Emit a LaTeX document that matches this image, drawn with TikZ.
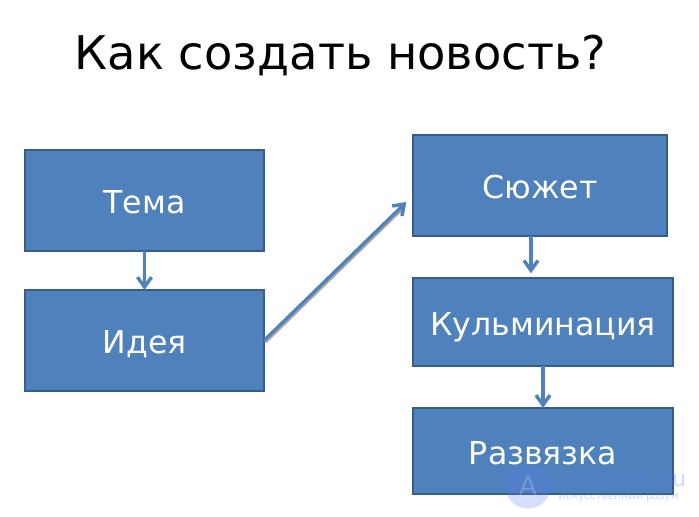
\documentclass[tikz,border=0pt]{standalone}
\usepackage{fontspec}
\setmainfont{DejaVu Sans}
\usepackage{xcolor}
\usetikzlibrary{positioning,arrows.meta}
\definecolor{accent}{HTML}{4F81BD}
\definecolor{edge}{HTML}{385D8A}
\definecolor{mark}{HTML}{5C7CF0}
\tikzset{
  box/.style={rectangle,draw=edge,fill=accent,line width=1.5pt,outer sep=0pt,inner sep=0pt,
    align=center,text=white,text height=20pt,text depth=0pt,font=\fontsize{23.7}{27}\selectfont},
  fl/.style={-{Straight Barb[length=2.6mm,width=3.7mm,line width=2.6pt]},draw=accent,line width=2.4pt},
  shadowline/.style={draw=black!35,line width=2.2pt},
  wm/.style={text=mark,text opacity=.3,inner sep=0pt,anchor=west},
}

\begin{document}
\begin{tikzpicture}[x=.75pt,y=-.75pt,node distance=29.25pt]
  \useasboundingbox (0,0) rectangle (699,517);
  \node[font=\fontsize{34.8}{40}\selectfont,inner sep=0pt] (title) at (340.5,55.5) {Как создать новость?};
  % left column
  \node[box,minimum width=179.25pt,minimum height=75.75pt] (tema) at (144.5,200.5) {Тема};
  \node[box,minimum width=179.25pt,minimum height=75.75pt,below=of tema] (idea) {Идея};
  % right column
  \node[box,minimum width=190.5pt,minimum height=75.75pt] (plot) at (540,185.5) {Сюжет};
  \node[box,minimum width=195pt,minimum height=66pt] (peak) at (543,322) {Кульминация};
  \node[box,minimum width=195pt,minimum height=64.5pt] (end) at (543,451) {Развязка};
  % arrows
  \draw[shadowline,shorten >=12pt,transform canvas={shift={(1.1pt,-1.1pt)}}] (idea.east)--([yshift=-7.5pt]plot.west);
  \draw[fl,shorten >=7pt] (idea.east)--([yshift=-7.5pt]plot.west);
  \draw[fl] (tema)--(idea);
  \draw[fl,shorten >=3.5pt] ([xshift=-6.75pt]plot.south)--([xshift=-9pt]peak.north);
  \draw[fl] (peak)--(end);
  % watermark
  \node[circle,fill=mark,fill opacity=.25,text=white,text opacity=.2,minimum size=34pt,inner sep=0pt,font=\fontsize{20}{20}\selectfont] (logo) at (528,486) {A};
  \node[wm,font=\fontsize{16.5}{18}\selectfont] (site) at (558,478) {intellect.icu};
  \node[wm,font=\fontsize{7.8}{8}\selectfont] (slogan) at (558,497) {Искусственный разум};
\end{tikzpicture}
\end{document}
